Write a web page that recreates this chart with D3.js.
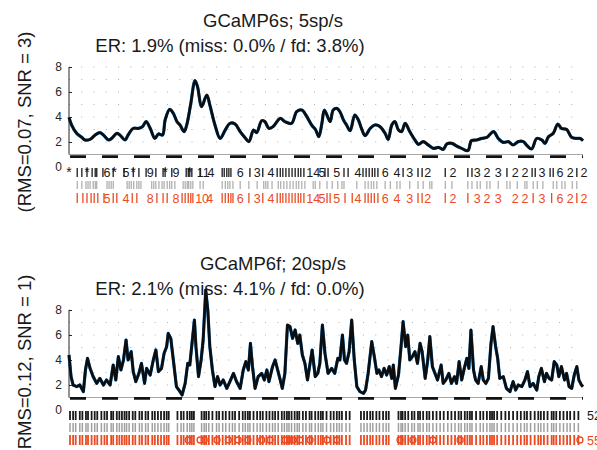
<!DOCTYPE html>
<html>
<head>
<meta charset="utf-8">
<script src="https://cdn.jsdelivr.net/npm/d3@7"></script>
<style>
  body { margin: 0; background: #fff; }
  text { font-family: "Liberation Sans", Arial, Helvetica, sans-serif; }
</style>
</head>
<body>
<svg id="chart" width="597" height="450"></svg>
<script>
"use strict";

// ---- data (time in % of recording, dF/F values) ----
var yTicks = [0, 2, 4, 6, 8];
var gridRows = [2, 3, 4, 5, 6, 7, 8];

// GCaMP6s, 5sp/s
var t1 = [0, 0.5, 1.5, 2.5, 3.1, 4.1, 5.1, 6.0, 6.7, 7.7, 8.3, 9.3, 9.9, 10.9, 11.5, 12.5, 13.5, 14.3, 15.0, 15.8,
    16.7, 17.4, 18.2, 18.7, 19.6, 20.3, 21.0, 21.6, 22.4, 22.9, 23.7, 24.5, 25.0, 25.8, 26.8, 27.4, 28.4, 29.4, 30.4, 31.3,
    32.3, 33.3, 34.2, 35.0, 35.9, 36.5, 37.5, 38.1, 38.9, 39.7, 41.1, 42.0, 43.3, 44.3, 45.3, 46.2, 47.2, 48.0, 48.6, 49.2, 49.7,
    50.8, 51.4, 52.1, 52.7, 53.4, 54.0, 54.7, 55.6, 56.3, 56.9, 57.6, 58.6, 59.5, 60.5, 61.5, 62.1, 62.8, 63.4, 64.1, 64.7,
    65.4, 66.3, 67.3, 68.0, 68.9, 69.9, 70.9, 71.9, 72.8, 73.5, 74.5, 75.4, 76.4, 77.6, 78.3, 79.3, 80.3, 81.3, 82.6, 83.5,
    84.5, 85.5, 86.4, 87.4, 88.4, 89.0, 90.0, 91.0, 92.0, 92.6, 93.3, 94.2, 95.1, 95.8, 96.8, 97.8, 98.8, 99.4, 100];
var v1 = [3.97, 3.36, 2.69, 2.37, 2.16, 2.21, 2.56, 2.75, 2.56, 2.16, 2.29, 2.69, 2.56, 2.16, 2.56, 3.09, 3.09, 3.23, 3.63, 3.09,
    2.29, 2.64, 2.56, 3.76, 4.61, 4.29, 3.63, 3.36, 2.83, 3.36, 5.09, 6.91, 6.43, 4.83, 5.76, 4.96, 3.36, 2.29, 2.96, 3.49,
    3.44, 2.83, 2.37, 2.03, 2.96, 2.75, 3.71, 3.63, 3.09, 3.23, 3.89, 3.63, 3.49, 4.43, 4.56, 4.08, 3.36, 2.96, 2.43, 3.49, 4.56,
    3.63, 4.56, 4.69, 4.43, 3.76, 3.36, 2.91, 4.16, 3.76, 3.09, 2.51, 3.09, 3.36, 3.23, 2.69, 2.21, 3.36, 3.63, 2.96, 2.83,
    3.49, 2.83, 2.16, 1.81, 2.03, 1.76, 1.49, 1.57, 1.41, 1.84, 1.89, 1.68, 1.49, 1.31, 2.11, 2.16, 2.29, 2.37, 2.83, 2.29,
    1.97, 2.03, 1.76, 2.03, 2.03, 1.76, 1.44, 2.29, 2.16, 1.89, 2.43, 2.69, 3.44, 3.09, 3.01, 2.37, 2.29, 2.29, 2.11];

var spk1Black = [1.6, 2.5, 3.5, 4.5, 5.1, 5.4, 6.6, 8.6, 10.7, 12.5, 13.6, 15.0, 16.9, 18.3, 18.7, 20.0, 22.8, 23.2, 23.5, 23.9,
    25.5, 29.8, 30.2, 30.7, 31.1, 31.5, 35.2, 37.7, 40.5, 41.1, 41.6, 42.2, 42.8, 43.4, 44.0, 44.6, 45.1, 45.7, 49.8, 50.4,
    53.5, 54.3, 57.2, 57.8, 58.4, 59.0, 59.5, 60.1, 65.0, 67.9, 68.7, 73.2, 77.6, 78.4, 85.2, 90.1, 90.7, 93.6, 94.2, 98.8];
var spk1Gray = [1.6, 2.5, 3.3, 3.7, 4.1, 4.7, 5.1, 5.4, 7.4, 7.8, 8.2, 8.6, 11.3, 11.7, 12.1, 12.6, 13.2, 13.6, 14.0, 16.1,
    16.5, 16.9, 17.5, 18.1, 18.5, 19.1, 19.6, 20.0, 20.6, 22.2, 22.6, 23.0, 23.3, 23.7, 24.1, 25.5, 26.1, 29.8, 30.4, 30.9,
    31.3, 31.9, 33.3, 35.0, 36.6, 37.9, 38.3, 38.7, 39.5, 40.7, 41.2, 41.8, 42.4, 43.0, 43.6, 44.2, 44.7, 45.3, 45.9, 47.5,
    47.9, 48.8, 50.2, 51.2, 52.3, 53.1, 53.5, 56.0, 57.6, 58.2, 58.8, 59.3, 59.9, 61.5, 62.5, 63.8, 64.4, 66.3, 67.9, 68.9,
    70.2, 70.6, 73.2, 74.5, 77.6, 78.4, 79.4, 80.0, 81.3, 81.9, 83.5, 85.2, 85.8, 87.2, 88.7, 89.1, 90.3, 91.1, 92.2, 94.2,
    94.9, 95.9, 96.5, 97.9, 98.8];
var spk1Red = [1.6, 2.7, 3.5, 4.3, 4.9, 5.6, 6.8, 8.6, 9.3, 12.3, 13.2, 17.1, 18.3, 19.1, 22.0, 22.6, 23.2, 23.7, 24.1, 29.8,
    30.4, 31.0, 31.5, 31.9, 35.0, 37.7, 40.5, 41.1, 41.6, 42.2, 42.8, 43.4, 44.0, 44.6, 45.1, 45.7, 50.2, 50.8, 53.7, 55.1,
    57.6, 58.2, 58.8, 59.4, 60.1, 67.9, 68.7, 73.2, 77.6, 90.3, 93.9, 98.8];

var lab1Black = [[0, "*"], [3.5, "*"], [7.4, "6"], [8.8, "*"], [11.1, "5"], [12.5, "*"], [15.8, "9"], [18.7, "*"],
    [20.8, "9"], [23.5, "*"], [26.1, "11"], [27.6, "4"], [33.3, "6"], [36.6, "3"], [39.3, "4"], [47.5, "14"], [49.2, "5"],
    [52.1, "5"], [56.2, "4"], [61.5, "6"], [63.8, "4"], [66.3, "3"], [69.8, "2"], [74.7, "2"], [79.4, "3"], [81.3, "2"],
    [83.5, "3"], [86.8, "2"], [88.7, "2"], [92.0, "3"], [95.5, "6"], [97.5, "2"], [100.2, "2"]];
var lab1Red = [[7.4, "5"], [11.1, "4"], [15.8, "8"], [20.8, "8"], [25.9, "10"], [27.4, "4"], [33.3, "6"], [36.6, "3"],
    [39.3, "4"], [47.5, "14"], [49.2, "5"], [52.1, "5"], [56.2, "4"], [61.5, "6"], [63.8, "4"], [66.3, "3"], [69.8, "2"],
    [74.7, "2"], [79.4, "3"], [81.3, "2"], [83.5, "3"], [86.8, "2"], [88.7, "2"], [92.0, "3"], [95.5, "6"], [97.5, "2"],
    [100.2, "2"]];

// GCaMP6f, 20sp/s
var t2 = [0, 0.4, 0.8, 1.5, 2.1, 2.8, 3.2, 3.6, 4.1, 4.7, 5.4, 6.0, 6.7, 7.3, 8.0, 8.6, 9.1, 9.6, 10.1, 10.6,
    11.1, 11.5, 12.1, 12.5, 13.0, 13.6, 14.1, 14.7, 15.1, 15.8, 16.4, 16.9, 17.4, 18.0, 18.5, 19.0, 19.3, 19.8, 20.3, 20.9,
    21.6, 22.0, 22.6, 23.1, 23.5, 24.0, 24.4, 24.7, 25.2, 25.7, 26.1, 26.6, 27.0, 27.4, 27.9, 28.4, 28.9, 29.4, 30.0, 30.7,
    31.3, 32.0, 32.6, 33.3, 33.9, 34.4, 34.9, 35.3, 35.7, 36.2, 36.8, 37.5, 38.0, 38.5, 38.9, 39.6, 40.1, 40.6, 41.1, 41.5,
    42.0, 42.5, 43.0, 43.5, 44.0, 44.5, 44.9, 45.4, 45.9, 46.4, 46.9, 47.3, 47.9, 48.4, 48.8, 49.3, 49.8,
    50.4, 51.1, 51.7, 52.3, 52.7, 53.2, 53.6, 54.0, 54.5, 55.0, 55.5, 56.0, 56.6, 57.3, 57.7, 58.2, 58.9, 59.4, 59.9, 60.3,
    60.8, 61.3, 61.8, 62.3, 62.8, 63.1, 63.5, 64.1, 64.6, 65.0, 65.5, 65.9, 66.3, 66.8, 67.3, 67.8, 68.3, 68.7, 69.3, 69.8,
    70.2, 70.7, 71.2, 71.7, 72.4, 72.8, 73.3, 73.9, 74.4, 75.0, 75.4, 75.9, 76.4, 76.9, 77.4, 77.8, 78.2, 78.7, 79.1, 79.6,
    80.2, 80.6, 81.1, 81.6, 82.1, 82.5, 83.0, 83.4, 83.8, 84.5, 85.1, 85.8, 86.4, 86.9, 87.4, 88.1, 88.7, 89.2, 89.7, 90.3,
    91.0, 91.4, 91.9, 92.5, 92.9, 93.4, 93.9, 94.4, 94.9, 95.3, 95.8, 96.4, 96.8, 97.3, 97.8, 98.3, 98.8, 99.2, 99.7, 100];
var v2 = [4.4, 2.67, 2.0, 1.87, 2.0, 1.47, 3.2, 4.13, 3.33, 2.67, 2.13, 2.53, 2.0, 2.4, 2.0, 3.6, 2.4, 4.27, 3.2, 4.0,
    5.6, 4.0, 4.67, 3.07, 2.27, 2.93, 3.73, 2.13, 3.33, 2.8, 4.0, 4.8, 3.07, 3.33, 4.53, 5.07, 6.13, 5.73, 4.0, 1.87,
    1.47, 1.2, 2.13, 3.73, 3.6, 5.6, 7.2, 5.07, 2.67, 4.0, 5.6, 9.6, 8.0, 5.07, 3.2, 1.87, 2.67, 2.0, 2.4, 1.73,
    2.27, 2.93, 2.27, 1.73, 3.2, 3.87, 3.2, 5.33, 3.47, 1.73, 2.67, 2.93, 2.4, 3.2, 2.27, 3.47, 4.0, 3.2, 2.4, 1.73,
    2.93, 6.8, 6.67, 5.73, 6.4, 5.33, 6.0, 4.4, 3.73, 2.4, 3.73, 4.8, 2.67, 2.93, 3.73, 6.8, 4.53,
    2.93, 3.33, 2.93, 4.13, 4.0, 6.0, 4.0, 3.73, 4.67, 7.2, 4.0, 1.87, 1.47, 1.33, 1.6, 2.93, 5.47, 4.27, 2.93, 3.2,
    2.67, 3.33, 2.8, 3.47, 2.53, 3.6, 1.73, 2.8, 5.07, 7.07, 5.07, 6.0, 4.0, 4.27, 4.67, 3.73, 5.33, 4.67, 2.53, 4.0,
    5.87, 3.47, 2.93, 2.4, 3.6, 2.13, 2.4, 2.93, 2.13, 2.67, 2.13, 3.87, 2.4, 3.33, 4.13, 3.33, 6.4, 3.2, 2.4, 2.13,
    3.47, 2.4, 2.13, 2.53, 5.33, 6.67, 5.07, 4.13, 2.53, 2.67, 1.73, 1.47, 2.27, 1.6, 2.0, 1.87, 2.4, 3.07, 1.87, 2.13,
    1.6, 2.67, 3.33, 2.27, 2.93, 2.53, 2.4, 3.87, 3.6, 2.67, 3.47, 2.4, 2.93, 1.87, 1.73, 2.8, 3.47, 2.4, 2.0, 1.87];

var spk2 = [0.2, 0.8, 1.3, 2.1, 2.6, 3.3, 3.7, 4.4, 5.0, 5.5, 6.3, 6.9, 7.4, 8.2, 8.6, 9.3, 9.8, 10.3, 10.8, 11.2,
    11.7, 12.4, 12.9, 13.7, 14.2, 14.9, 15.4, 16.2, 16.7, 17.3, 17.9, 18.5, 19.0, 19.4,
    21.1, 21.8, 22.3, 23.0, 23.5, 23.9, 24.3,
    25.8, 26.3, 26.7, 27.2, 27.9, 28.7, 29.2, 29.9, 30.5, 31.2, 31.8, 32.3, 33.1, 33.8, 34.3, 34.8, 35.2, 35.9, 36.6,
    37.2, 37.7, 38.4, 39.0, 39.6, 40.1, 40.7, 41.4, 41.9, 42.4, 42.8, 43.3, 43.9, 44.4, 44.8, 45.5, 46.1, 46.8, 47.2, 47.9,
    48.5, 49.0, 49.4, 50.1, 50.9, 51.5, 52.1, 52.6, 53.1, 53.9, 54.6,
    56.8, 57.4, 58.0, 58.6, 59.1, 59.8, 60.4, 61.1, 61.7, 62.2,
    64.1, 64.6, 64.9, 65.4, 66.0, 66.7, 67.2, 67.9, 68.3, 68.9, 69.6, 70.1, 70.8, 71.5, 72.2, 72.9, 73.7, 74.4, 75.1, 75.8,
    76.3, 77.0, 77.5, 78.0, 78.4, 79.2, 80.0, 80.6, 81.3, 81.9, 82.3, 82.7, 83.3, 84.1, 84.9, 85.6, 86.4, 87.2, 87.9, 88.6,
    89.1, 89.8, 90.6, 91.3, 91.8, 92.4, 93.1, 93.9, 94.3, 94.8, 95.5, 96.2, 96.9, 97.5, 98.3, 99.1];
var mark2Red = [23.2, 25.5, 26.3, 28.8, 31.0, 32.9, 34.8, 37.5, 39.1, 42.0, 43.0, 43.6, 44.9, 46.9, 50.2, 52.1,
    64.4, 66.9, 70.8, 76.1, 99.4];

var panels = [
  { y0: 167, title: "GCaMP6s; 5sp/s", titleX: 273, er: "ER: 1.9% (miss: 0.0% / fd: 3.8%)", erX: 230,
    ylab: "(RMS=0.07, SNR = 3)", t: t1, v: v1, curve: d3.curveCatmullRom, base: 0.83,
    rows: [ { spikes: spk1Black, labels: lab1Black, y1: 1, y2: 10, color: "#1a1a1a", w: 1.3 },
            { spikes: spk1Gray, labels: [], y1: 14, y2: 22, color: "#9a9a9a", w: 1 },
            { spikes: spk1Red, labels: lab1Red, y1: 26, y2: 36, color: "#eb4b23", w: 1.3 } ],
    marks: [] },
  { y0: 410, title: "GCaMP6f; 20sp/s", titleX: 273, er: "ER: 2.1% (miss: 4.1% / fd: 0.0%)", erX: 230,
    ylab: "(RMS=0.12, SNR = 1)", t: t2, v: v2, curve: d3.curveLinear, base: 0.93,
    rows: [ { spikes: spk2, labels: [[100.8, "52"]], y1: 1, y2: 10, color: "#1a1a1a", w: 1.8 },
            { spikes: spk2, labels: [], y1: 13, y2: 22, color: "#a0a0a0", w: 1.5 },
            { spikes: spk2, labels: [[100.8, "55"]], y1: 25, y2: 35, color: "#eb4b23", w: 1.8 } ],
    marks: mark2Red }
];

var svg = d3.select("#chart");
var x = d3.scaleLinear().domain([0, 100]).range([69, 583]);

function drawPanel(p) {
  var y = d3.scaleLinear().domain([0, 8]).range([p.y0, p.y0 - 100]);
  var g = svg.append("g");

  // dotted grid rows
  g.selectAll("line.grid").data(gridRows).enter().append("line")
    .attr("class", "grid")
    .attr("x1", x(0)).attr("x2", x(100))
    .attr("y1", function (d) { return y(d); }).attr("y2", function (d) { return y(d); })
    .attr("stroke", "#b0b0b0").attr("stroke-width", 1).attr("stroke-dasharray", "1,11.25");

  // gray reference line at 1 and dashed baseline
  g.append("line").attr("x1", x(0)).attr("x2", x(100)).attr("y1", y(1)).attr("y2", y(1))
    .attr("stroke", "#a8a8a8").attr("stroke-width", 1.2);
  g.append("line").attr("x1", x(0.2)).attr("x2", x(100)).attr("y1", y(p.base)).attr("y2", y(p.base))
    .attr("stroke", "#111").attr("stroke-width", 2.6).attr("stroke-dasharray", "16,16");

  // y axis
  var ax = d3.axisLeft(y).tickValues(yTicks).tickSize(-3).tickPadding(7);
  var axg = g.append("g").attr("transform", "translate(" + x(0) + ",0)").call(ax);
  axg.select(".domain").remove();
  axg.attr("font-size", 12).attr("font-family", null);
  axg.selectAll(".tick line").attr("stroke", "#262626")
    .filter(function (d) { return d === 0; }).remove();
  axg.selectAll(".tick text").attr("fill", "#262626");
  g.append("line").attr("x1", x(0)).attr("x2", x(0)).attr("y1", y(8)).attr("y2", y(1))
    .attr("stroke", "#262626").attr("stroke-width", 1);

  // traces: blue ground truth under black fit
  var pts = p.t.map(function (t, i) { return [t, p.v[i]]; });
  var line = d3.line().x(function (d) { return x(d[0]); }).y(function (d) { return y(d[1]); }).curve(p.curve);
  g.append("path").datum(pts).attr("d", line).attr("fill", "none")
    .attr("stroke", "#0a72c4").attr("stroke-width", 3.2).attr("stroke-linejoin", "round");
  g.append("path").datum(pts).attr("d", line).attr("fill", "none")
    .attr("stroke", "#0d0d0d").attr("stroke-width", 2.7).attr("stroke-linejoin", "round");

  // spike rasters
  p.rows.forEach(function (r) {
    g.append("g").selectAll("line").data(r.spikes).enter().append("line")
      .attr("x1", function (d) { return x(d); }).attr("x2", function (d) { return x(d); })
      .attr("y1", p.y0 + r.y1).attr("y2", p.y0 + r.y2)
      .attr("stroke", r.color).attr("stroke-width", r.w);
    g.append("g").selectAll("text").data(r.labels).enter().append("text")
      .attr("x", function (d) { return x(d[0]); })
      .attr("y", p.y0 + r.y2)
      .attr("text-anchor", function (d) { return d[0] > 100.5 ? "start" : "middle"; })
      .attr("font-size", function (d) { return d[1] === "*" ? 14 : 12.5; })
      .attr("fill", r.color)
      .text(function (d) { return d[1]; });
  });
  var red = p.rows[2];
  g.append("g").selectAll("circle").data(p.marks).enter().append("circle")
    .attr("cx", function (d) { return x(d); })
    .attr("cy", p.y0 + (red.y1 + red.y2) / 2)
    .attr("r", 3).attr("fill", "none").attr("stroke", red.color).attr("stroke-width", 1.3);

  // titles
  g.append("text").attr("x", p.titleX).attr("y", p.y0 - 140).attr("text-anchor", "middle")
    .attr("font-size", 18.5).attr("fill", "#1a1a1a").text(p.title);
  g.append("text").attr("x", p.erX).attr("y", p.y0 - 115).attr("text-anchor", "middle")
    .attr("font-size", 18.5).attr("fill", "#1a1a1a").text(p.er);
  g.append("text").attr("transform", "translate(31," + (p.y0 - 45) + ") rotate(-90)")
    .attr("text-anchor", "middle").attr("font-size", 18.5).attr("fill", "#1a1a1a").text(p.ylab);
}

panels.forEach(drawPanel);
</script>
</body>
</html>
